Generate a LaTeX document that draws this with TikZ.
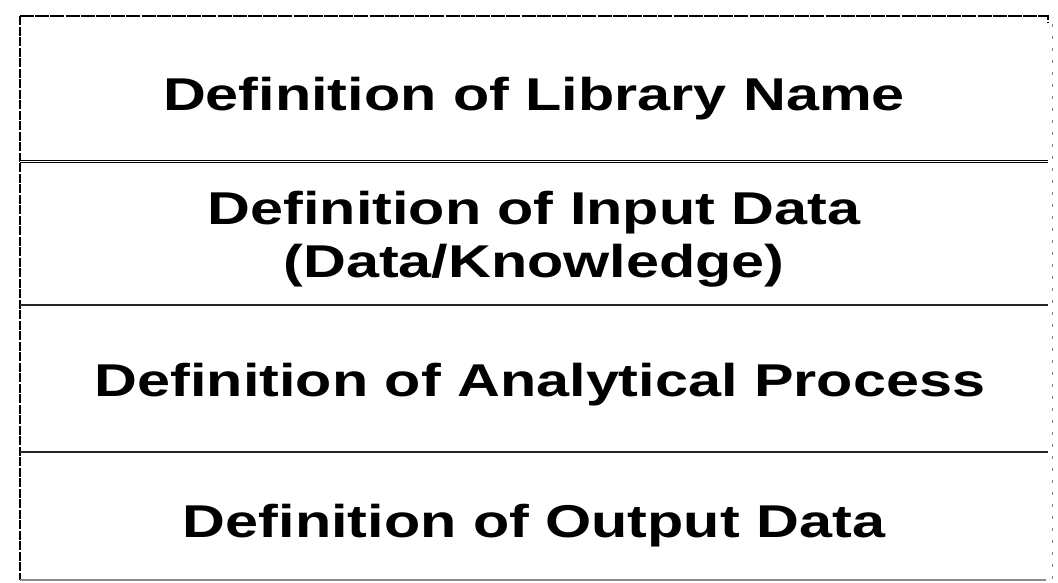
\documentclass[tikz,border=0pt]{standalone}
\usepackage{fontspec}
\newfontfamily\labelfont{Liberation Sans}[FakeStretch=1.29]
\begin{document}
\begin{tikzpicture}[x=1pt,y=-1pt,
  frame/.style={black,line width=1.6pt,dash pattern=on 14pt off 1.2pt},
  sideline/.style={black,line width=1.4pt,dash pattern=on 9pt off 1.5pt},
  rowline/.style={black!85,line width=1.6pt},
  faintline/.style={black!45,line width=1.2pt},
  farside/.style={black!50,line width=1pt,dash pattern=on 3pt off 9pt},
  rowtext/.style={font=\labelfont\bfseries\fontsize{46}{58}\selectfont,anchor=base,inner sep=0pt}]
  \useasboundingbox (0,0) rectangle (1058,582);
  % outer frame
  \draw[frame] (20,16) -- (1048,16) -- (1048,22);
  \draw[sideline] (20,16) -- (20,580);
  \draw[faintline] (20,580) -- (1046,580);
  \draw[farside] (1052,24) -- (1052,580);
  % row separators
  \draw[black,line width=1.3pt,double distance=1.3pt] (20,161.5) -- (1048,161.5);
  \draw[rowline] (20,305) -- (1048,305);
  \draw[rowline] (20,452) -- (1048,452);
  % row labels (placed by baseline)
  \node[rowtext] (libname) at (534,110) {Definition of Library Name};
  \node[rowtext] (input) at (534,224) {Definition of Input Data};
  \node[rowtext] (inputsub) at (534,277) {(Data/Knowledge)};
  \node[rowtext] (process) at (540,396) {Definition of Analytical Process};
  \node[rowtext] (output) at (534,537) {Definition of Output Data};
\end{tikzpicture}
\end{document}
